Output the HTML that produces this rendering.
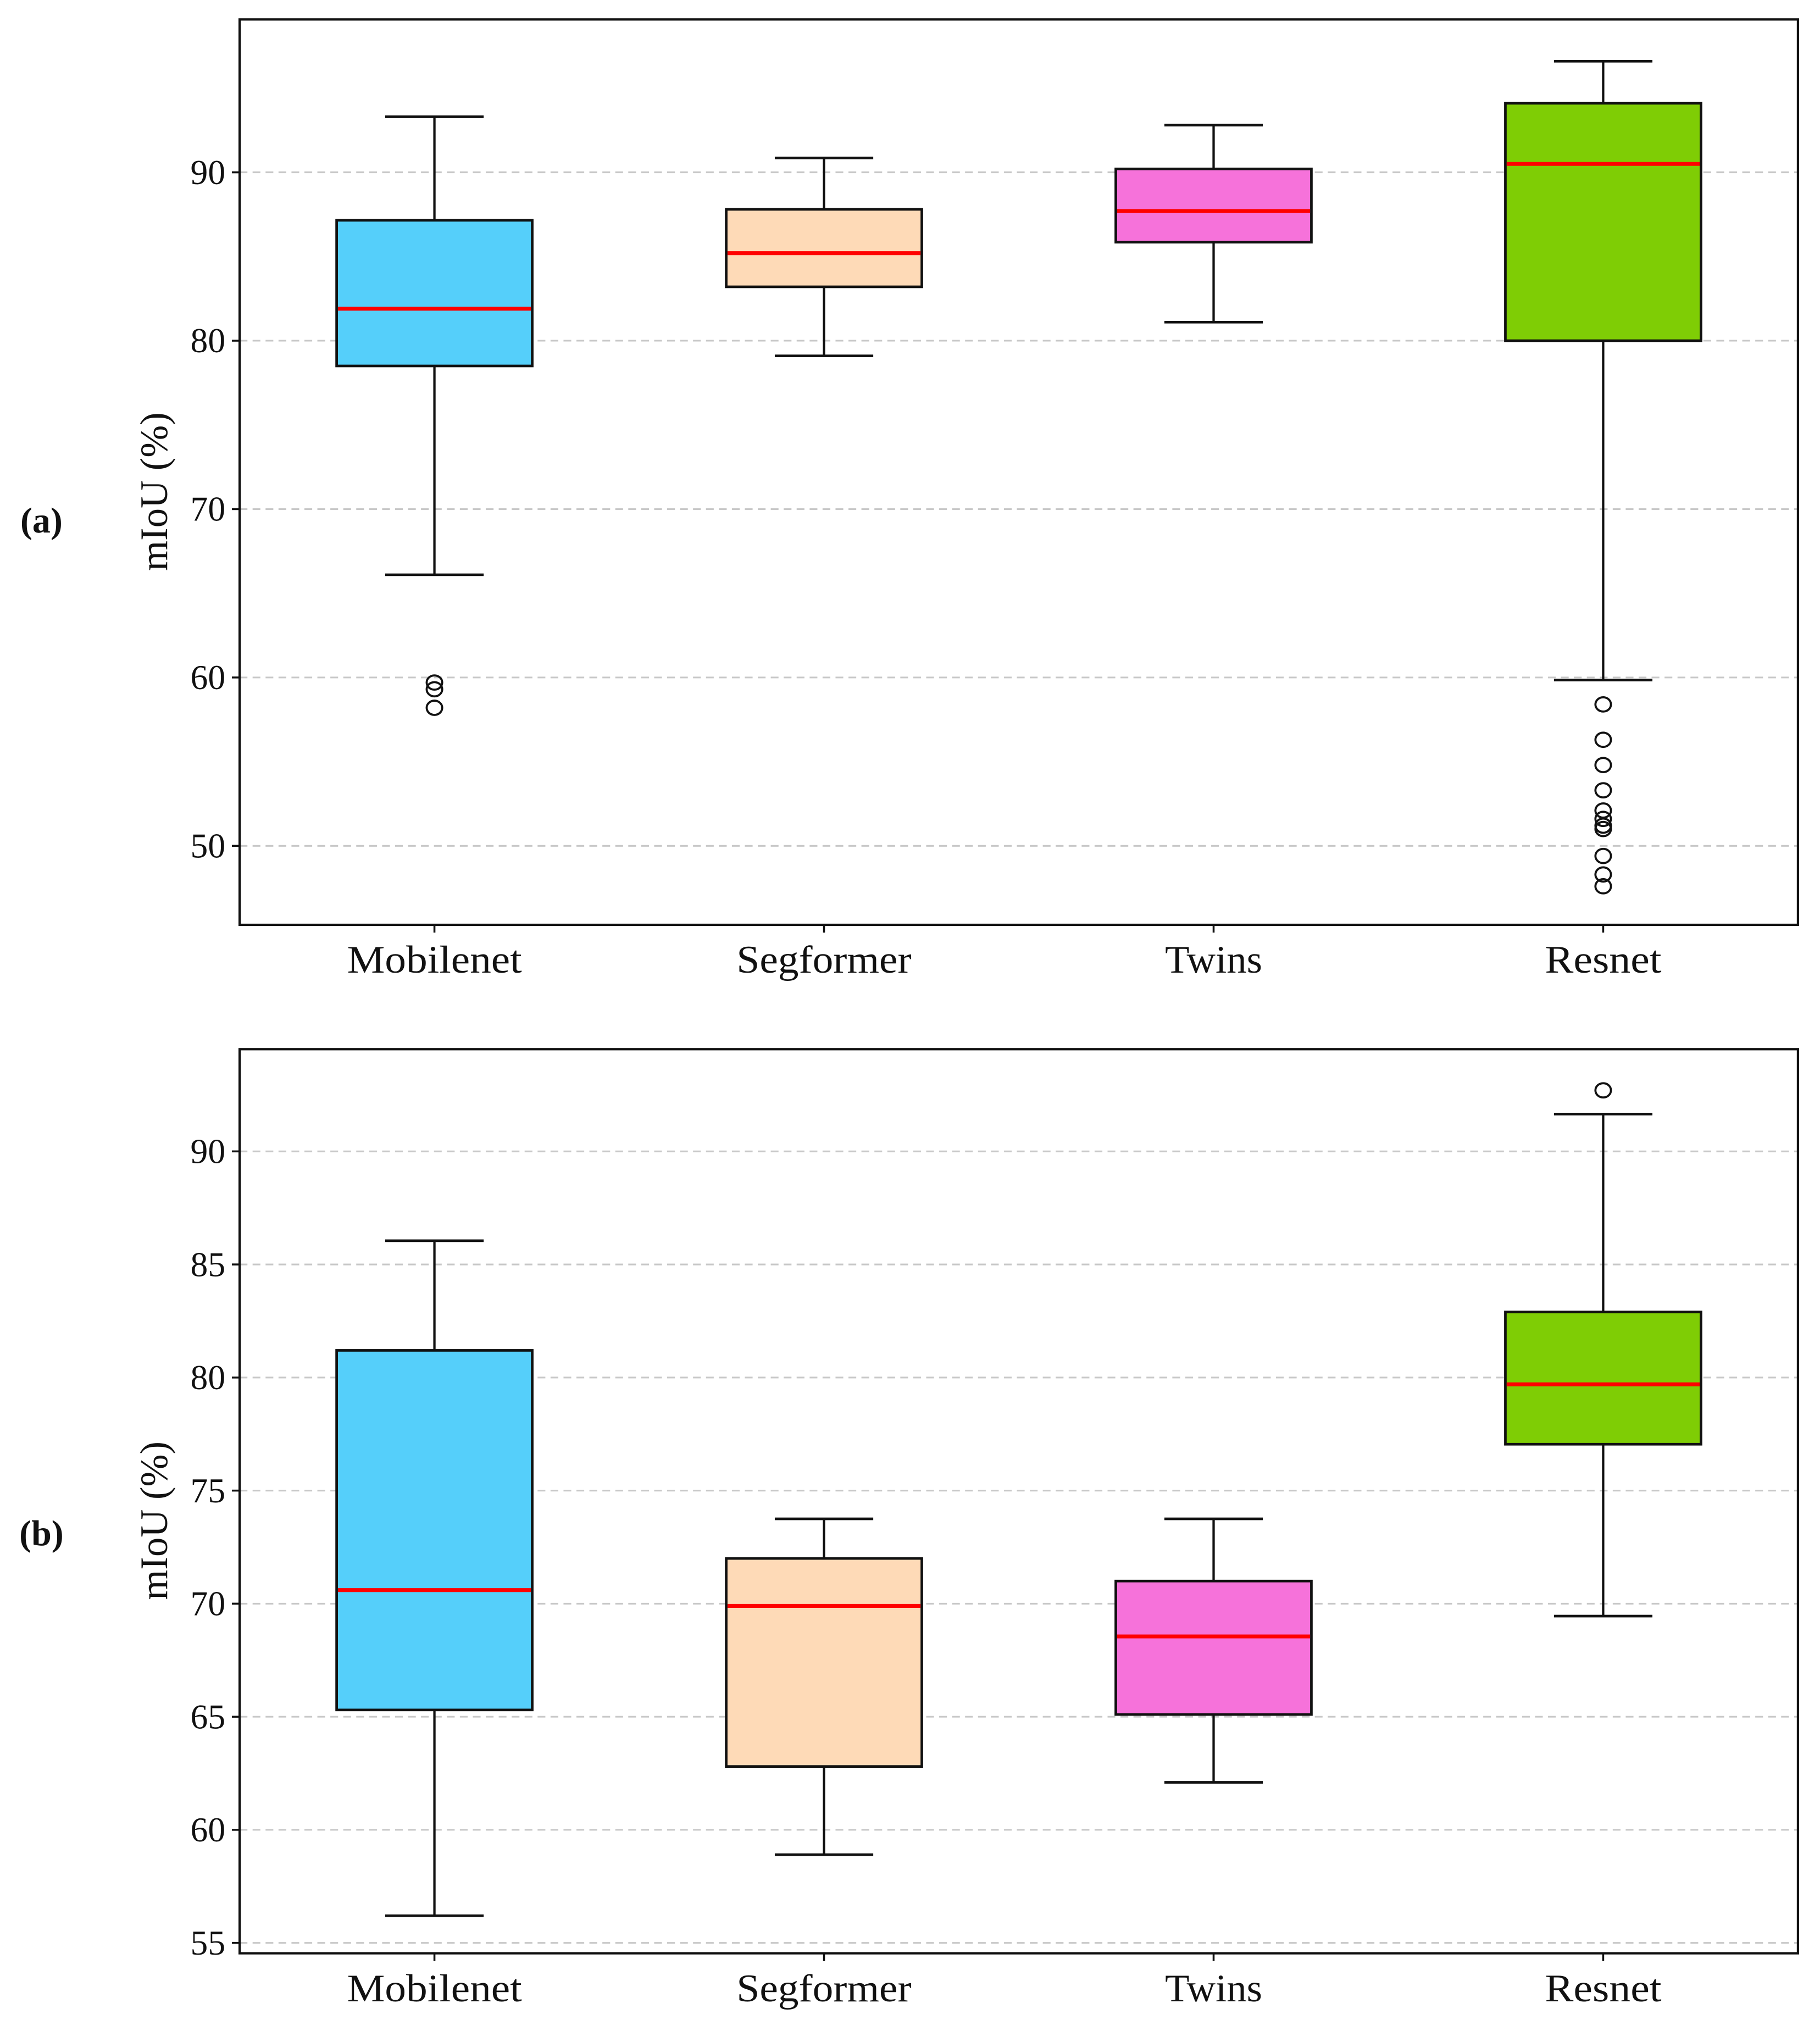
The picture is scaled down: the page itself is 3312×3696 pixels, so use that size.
<!DOCTYPE html>
<html><head><meta charset="utf-8"><style>
html,body{margin:0;padding:0;background:#fff}
svg{display:block}
text{font-family:"Liberation Serif",serif;fill:#111}
</style></head><body>
<svg id="fig" width="3312" height="3696" viewBox="0 0 1405 1568" preserveAspectRatio="none" xmlns="http://www.w3.org/2000/svg"></svg>
<script>
const categories = ["Mobilenet","Segformer","Twins","Resnet"];
const colors = ["#55cffa","#fedab7","#f672da","#7fcd05"];
// panel (a)
const statsA_low = [66.1, 79.1, 81.1, 59.85];
const statsA_q1 = [78.5, 83.2, 85.85, 80.0];
const statsA_med = [81.9, 85.2, 87.7, 90.5];
const statsA_q3 = [87.15, 87.8, 90.2, 94.1];
const statsA_high = [93.3, 90.85, 92.8, 96.6];
const outliersA = [[59.7, 59.3, 58.2], [], [], [58.4, 56.3, 54.8, 53.3, 52.1, 51.6, 51.2, 51.0, 49.4, 48.3, 47.6]];
const ticksA = [50, 60, 70, 80, 90];
// panel (b)
const statsB_low = [56.2, 58.9, 62.1, 69.45];
const statsB_q1 = [65.3, 62.8, 65.1, 77.05];
const statsB_med = [70.6, 69.9, 68.55, 79.7];
const statsB_q3 = [81.2, 72.0, 71.0, 82.9];
const statsB_high = [86.05, 73.75, 73.75, 91.65];
const outliersB = [[], [], [], [92.7]];
const ticksB = [55, 60, 65, 70, 75, 80, 85, 90];

const NS = "http://www.w3.org/2000/svg";
const svg = document.getElementById("fig");
function el(tag, attrs, parent) {
  const e = document.createElementNS(NS, tag);
  for (const k in attrs) e.setAttribute(k, attrs[k]);
  (parent || svg).appendChild(e);
  return e;
}

function panel(cfg) {
  const g = el("g", {});
  
  
  const L = 185, R = 1388, T = cfg.top, B = cfg.bottom;
  const y = v => B - (v - cfg.ymin) / (cfg.ymax - cfg.ymin) * (B - T);
  const x = i => L + (i + 0.5) * (R - L) / categories.length;
  cfg.ticks.forEach(t => {
    const gl = el("line", {x1: L, x2: R, y1: y(t), y2: y(t), stroke: "#c8c8c8", "stroke-width": 1.3, "stroke-dasharray": "6,4"}, g);
    
    
    el("line", {x1: L - 6, x2: L, y1: y(t), y2: y(t), stroke: "#111", "stroke-width": 1.5}, g);
    const tl = el("text", {x: L - 11, y: y(t) + 9, "text-anchor": "end", "font-size": 27}, g);
    tl.textContent = t;
    
    
  });
  const bw = 151, cw = 76;
  categories.forEach((c, i) => {
    const cx = x(i);
    const bg = el("g", {}, g);
    
    
    el("line", {x1: cx, x2: cx, y1: y(cfg.high[i]), y2: y(cfg.q3[i]), stroke: "#111", "stroke-width": 1.8}, bg);
    el("line", {x1: cx, x2: cx, y1: y(cfg.q1[i]), y2: y(cfg.low[i]), stroke: "#111", "stroke-width": 1.8}, bg);
    el("line", {x1: cx - cw/2, x2: cx + cw/2, y1: y(cfg.high[i]), y2: y(cfg.high[i]), stroke: "#111", "stroke-width": 2}, bg);
    el("line", {x1: cx - cw/2, x2: cx + cw/2, y1: y(cfg.low[i]), y2: y(cfg.low[i]), stroke: "#111", "stroke-width": 2}, bg);
    el("rect", {x: cx - bw/2, y: y(cfg.q3[i]), width: bw, height: y(cfg.q1[i]) - y(cfg.q3[i]), fill: colors[i], stroke: "#111", "stroke-width": 2}, bg);
    el("line", {x1: cx - bw/2 + 1, x2: cx + bw/2 - 1, y1: y(cfg.med[i]), y2: y(cfg.med[i]), stroke: "#ff0000", "stroke-width": 3}, bg);
    cfg.out[i].forEach(v => {
      const o = el("ellipse", {cx: cx, cy: y(v), rx: 6, ry: 5.5, fill: "none", stroke: "#111", "stroke-width": 1.6}, bg);
      
      
    });
    el("line", {x1: cx, x2: cx, y1: B, y2: B + 6, stroke: "#111", "stroke-width": 1.5}, g);
    const xl = el("text", {x: cx, y: B + 37, "text-anchor": "middle", "font-size": 30, textLength: c.length * 15, lengthAdjust: "spacingAndGlyphs"}, g);
    xl.textContent = c;
    
    
  });
  const fr = el("rect", {x: L, y: T, width: R - L, height: B - T, fill: "none", stroke: "#111", "stroke-width": 1.8}, g);
  
  
  const cyl = (T + B) / 2 + 15;
  const yl = el("text", {x: 129, y: cyl, "text-anchor": "middle", "font-size": 30, transform: "rotate(-90 129 " + cyl + ")"}, g);
  yl.textContent = "mIoU (%)";
  
  
  const pl = el("text", {x: 32, y: cfg.labelY, "text-anchor": "middle", "font-size": 28, "font-weight": "bold"}, g);
  pl.textContent = cfg.label;
  
  
}

panel({name: "panel-a", top: 15, bottom: 714, ymin: 45.31, ymax: 99.08, ticks: ticksA,
  low: statsA_low, q1: statsA_q1, med: statsA_med, q3: statsA_q3, high: statsA_high, out: outliersA,
  label: "(a)", labelY: 411});
panel({name: "panel-b", top: 810, bottom: 1508, ymin: 54.54, ymax: 94.52, ticks: ticksB,
  low: statsB_low, q1: statsB_q1, med: statsB_med, q3: statsB_q3, high: statsB_high, out: outliersB,
  label: "(b)", labelY: 1193});
</script>
</body></html>
